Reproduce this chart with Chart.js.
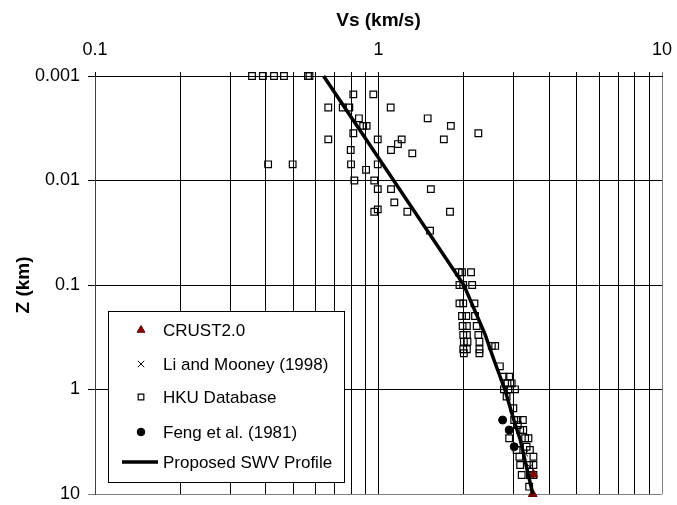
<!DOCTYPE html>
<html>
<head>
<meta charset="utf-8">
<script src="https://cdn.jsdelivr.net/npm/chart.js@4.4.0/dist/chart.umd.min.js"></script>
<style>
  body { margin: 0; background: #fff; }
  #canvas-chart { display: block; }
</style>
</head>
<body>
<canvas id="canvas-chart" width="677" height="505"></canvas>
<script>
// HKU database: shear-wave velocity (km/s) and depth (km), one row per depth
const hkuVs = [
  0.358, 0.391, 0.428, 0.464, 0.564, 0.571,
  0.815, 0.959,
  0.665, 0.748, 0.789, 1.104,
  0.853, 1.491,
  0.883, 0.908, 1.80,
  0.815, 2.25,
  0.665, 0.994, 1.207, 1.70,
  1.171,
  0.798, 1.107,
  1.316,
  0.408, 0.498, 0.800, 0.994,
  0.904,
  0.822, 0.966,
  0.994, 1.107, 1.53,
  1.137,
  0.994,
  0.966, 1.264, 1.787,
  1.52,
  1.92, 1.97, 2.12,
  1.93, 1.99, 2.14,
  1.93, 1.99, 2.18,
  1.97, 2.04, 2.19,
  1.98, 2.05, 2.22,
  1.99, 2.05, 2.25,
  2.00, 2.06, 2.27,
  2.51, 2.58,
  1.99, 2.05, 2.27,
  2.00, 2.27,
  2.68,
  2.76, 2.89,
  2.85, 2.95,
  2.77, 2.91, 3.03,
  2.83,
  2.99,
  3.01, 3.09, 3.23,
  3.10,
  3.16, 3.24,
  2.89, 3.29, 3.38,
  3.33,
  3.07, 3.42,
  3.14, 3.52,
  3.16, 3.40, 3.52,
  3.20, 3.42, 3.52,
  3.40
];
const hkuZ = [
  0.001, 0.001, 0.001, 0.001, 0.001, 0.001,
  0.0015, 0.0015,
  0.002, 0.002, 0.002, 0.002,
  0.00254, 0.00254,
  0.003, 0.003, 0.003,
  0.00353, 0.00353,
  0.00404, 0.00404, 0.00404, 0.00404,
  0.00448,
  0.00511, 0.00511,
  0.0055,
  0.007, 0.007, 0.007, 0.007,
  0.0079,
  0.01, 0.01,
  0.0121, 0.0121, 0.0121,
  0.0162,
  0.0189,
  0.0199, 0.0199, 0.0199,
  0.0302,
  0.0755, 0.0755, 0.0755,
  0.1, 0.1, 0.1,
  0.15, 0.15, 0.15,
  0.198, 0.198, 0.198,
  0.247, 0.247, 0.247,
  0.301, 0.301, 0.301,
  0.349, 0.349, 0.349,
  0.383, 0.383,
  0.412, 0.412, 0.412,
  0.45, 0.45,
  0.6,
  0.753, 0.753,
  0.873, 0.873,
  0.996, 0.996, 0.996,
  1.17,
  1.51,
  1.96, 1.96, 1.96,
  2.19,
  2.44, 2.44,
  2.93, 2.93, 2.93,
  3.53,
  3.79, 3.79,
  4.40, 4.40,
  5.28, 5.28, 5.28,
  6.58, 6.58, 6.58,
  8.51
];

const crustVs = [3.52, 3.5];
const crustZ = [6.5, 10];

const liMooneyVs = [3.29, 3.42];
const liMooneyZ = [4.1, 5.5];

const fengVs = [2.74, 2.89, 3.01];
const fengZ = [1.96, 2.44, 3.53];

// proposed shear-wave velocity profile
const profileVs = [0.64, 2.0, 2.38, 2.54, 2.79, 3.01, 3.16, 3.30, 3.5];
const profileZ = [0.001, 0.1, 0.3, 0.5, 1, 2, 3, 5, 10];

const xTicks = [0.1, 0.2, 0.3, 0.4, 0.5, 0.6, 0.7, 0.8, 0.9,
  1, 2, 3, 4, 5, 6, 7, 8, 9, 10];
const yTicks = [0.001, 0.01, 0.1, 1, 10];

const toPoints = (xs, ys) => xs.map((v, i) => ({ x: v, y: ys[i] }));
const isDecade = (v) => Math.abs(Math.log10(v) - Math.round(Math.log10(v))) < 1e-9;

// fixed axis box, no extra room for the end labels
const pinScale = (size) => (s) => {
  if (s.isHorizontal()) s.height = size; else s.width = size;
  s.paddingLeft = s.paddingRight = s.paddingTop = s.paddingBottom = 0;
};

Chart.defaults.font.family = "'Liberation Sans', Arial, sans-serif";
Chart.defaults.color = "#000";

// legend box sitting inside the plot, lower left
const boxLegend = {
  id: "boxLegend",
  afterDraw(chart) {
    const ctx = chart.ctx;
    const rows = [330, 364, 397, 432, 462];
    const order = [1, 2, 3, 4, 0];
    const sizes = [4.5, 4.5, 4, 3.8, 0];
    ctx.save();
    ctx.fillStyle = "#fff";
    ctx.strokeStyle = "#000";
    ctx.lineWidth = 1;
    ctx.fillRect(108.5, 311.5, 236, 171);
    ctx.strokeRect(108.5, 311.5, 236, 171);
    ctx.font = "17px 'Liberation Sans', Arial, sans-serif";
    ctx.textBaseline = "middle";
    order.forEach((di, i) => {
      const ds = chart.data.datasets[di];
      const y = rows[i];
      if (ds.showLine) {
        ctx.strokeStyle = ds.borderColor;
        ctx.lineWidth = ds.borderWidth;
        ctx.beginPath();
        ctx.moveTo(122, y);
        ctx.lineTo(158, y);
        ctx.stroke();
      } else {
        ctx.fillStyle = ds.backgroundColor;
        ctx.strokeStyle = ds.borderColor;
        ctx.lineWidth = ds.borderWidth;
        Chart.helpers.drawPoint(ctx, {
          pointStyle: ds.pointStyle, radius: sizes[i], rotation: 0, borderWidth: ds.borderWidth,
        }, 141, y);
      }
      ctx.fillStyle = "#000";
      ctx.fillText(ds.label, 163, y + 1);
    });
    ctx.restore();
  },
};

const canvas = document.getElementById("canvas-chart");

const swvChart = new Chart(canvas, {
  type: "scatter",
  data: {
    datasets: [
      {
        label: "Proposed SWV Profile",
        data: toPoints(profileVs, profileZ),
        showLine: true,
        borderColor: "#000",
        borderWidth: 3.5,
        pointRadius: 0,
        tension: 0,
        clip: false,
      },
      {
        label: "CRUST2.0",
        data: toPoints(crustVs, crustZ),
        pointStyle: "triangle",
        pointRadius: 5,
        backgroundColor: "#8b0000",
        borderColor: "#600000",
        borderWidth: 1,
        clip: false,
      },
      {
        label: "Li and Mooney (1998)",
        data: toPoints(liMooneyVs, liMooneyZ),
        pointStyle: "crossRot",
        pointRadius: 4,
        backgroundColor: "#000",
        borderColor: "#000",
        borderWidth: 1,
        clip: false,
      },
      {
        label: "HKU Database",
        data: toPoints(hkuVs, hkuZ),
        pointStyle: "rect",
        pointRadius: 4.7,
        backgroundColor: "rgba(255,255,255,0)",
        borderColor: "#000",
        borderWidth: 1.2,
        clip: false,
      },
      {
        label: "Feng et al. (1981)",
        data: toPoints(fengVs, fengZ),
        pointStyle: "circle",
        pointRadius: 4,
        backgroundColor: "#000",
        borderColor: "#000",
        borderWidth: 1,
        clip: false,
      },
    ],
  },
  options: {
    responsive: false,
    animation: false,
    devicePixelRatio: 1,
    layout: { padding: { left: 0, top: 0, right: 15, bottom: 11 } },
    plugins: { legend: { display: false }, tooltip: { enabled: false } },
    scales: {
      x: {
        type: "logarithmic",
        position: "top",
        min: 0.1,
        max: 10,
        afterBuildTicks: (s) => { s.ticks = xTicks.map((v) => ({ value: v })); },
        afterFit: pinScale(76),
        ticks: {
          autoSkip: false,
          maxRotation: 0,
          padding: 11,
          font: { size: 18 },
          callback: (v) => (isDecade(v) ? String(v) : ""),
        },
        grid: {
          color: (c) => (c.tick && c.tick.value === 10 ? "#808080" : "#000"),
          lineWidth: 1,
          tickLength: 4,
        },
        border: { color: "#000" },
        title: {
          display: true,
          text: "Vs (km/s)",
          font: { size: 19, weight: "bold" },
          padding: { top: 9, bottom: 0 },
        },
      },
      y: {
        type: "logarithmic",
        reverse: true,
        min: 0.001,
        max: 10,
        afterBuildTicks: (s) => { s.ticks = yTicks.map((v) => ({ value: v })); },
        afterFit: pinScale(95),
        ticks: {
          autoSkip: false,
          padding: 8,
          font: { size: 18 },
          callback: (v) => String(v),
        },
        grid: {
          color: (c) => (c.tick && c.tick.value === 10 ? "#808080" : "#000"),
          lineWidth: 1,
          tickLength: 7,
        },
        border: { color: "#404040" },
        title: {
          display: true,
          text: "Z (km)",
          font: { size: 19, weight: "bold" },
          padding: { top: 12, bottom: 0 },
        },
      },
    },
  },
  plugins: [boxLegend],
});
</script>
</body>
</html>
